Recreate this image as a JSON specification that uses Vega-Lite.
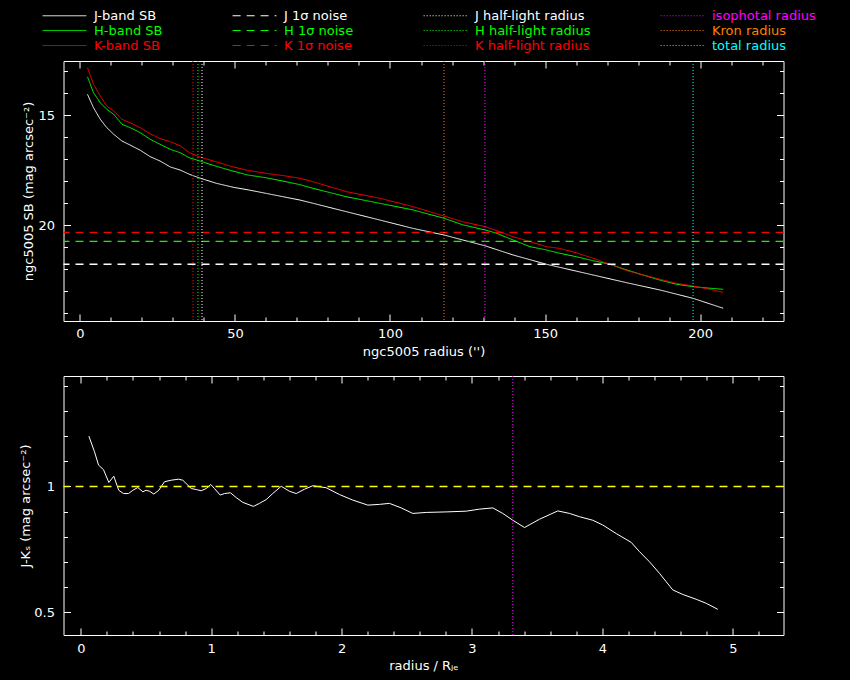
{
  "$schema": "https://vega.github.io/schema/vega-lite/v6.json",
  "background": "black",
  "padding": {"left": 18.5, "top": 7, "right": 40, "bottom": 8},
  "spacing": 16,
  "datasets": {
    "sb": [
      {"r": 2.5, "name": "J-band SB", "sb": 14.05}, {"r": 4.4, "name": "J-band SB", "sb": 14.65},
      {"r": 6.6, "name": "J-band SB", "sb": 15.18}, {"r": 8.7, "name": "J-band SB", "sb": 15.56},
      {"r": 10.9, "name": "J-band SB", "sb": 15.86}, {"r": 13.6, "name": "J-band SB", "sb": 16.17},
      {"r": 16.2, "name": "J-band SB", "sb": 16.35}, {"r": 19.5, "name": "J-band SB", "sb": 16.59},
      {"r": 22.7, "name": "J-band SB", "sb": 16.88}, {"r": 25.9, "name": "J-band SB", "sb": 17.08},
      {"r": 29.2, "name": "J-band SB", "sb": 17.35}, {"r": 32.4, "name": "J-band SB", "sb": 17.49},
      {"r": 35.3, "name": "J-band SB", "sb": 17.68}, {"r": 38.8, "name": "J-band SB", "sb": 17.86},
      {"r": 44.0, "name": "J-band SB", "sb": 18.09}, {"r": 49.4, "name": "J-band SB", "sb": 18.27},
      {"r": 54.7, "name": "J-band SB", "sb": 18.40}, {"r": 60.1, "name": "J-band SB", "sb": 18.55},
      {"r": 65.5, "name": "J-band SB", "sb": 18.70}, {"r": 70.9, "name": "J-band SB", "sb": 18.85},
      {"r": 75.2, "name": "J-band SB", "sb": 19.00}, {"r": 85.9, "name": "J-band SB", "sb": 19.38},
      {"r": 96.7, "name": "J-band SB", "sb": 19.76}, {"r": 107.4, "name": "J-band SB", "sb": 20.14},
      {"r": 117.4, "name": "J-band SB", "sb": 20.44}, {"r": 123.5, "name": "J-band SB", "sb": 20.67},
      {"r": 130.6, "name": "J-band SB", "sb": 20.93}, {"r": 139.7, "name": "J-band SB", "sb": 21.35},
      {"r": 150.4, "name": "J-band SB", "sb": 21.77}, {"r": 154.7, "name": "J-band SB", "sb": 21.91},
      {"r": 165.5, "name": "J-band SB", "sb": 22.26}, {"r": 176.3, "name": "J-band SB", "sb": 22.61},
      {"r": 187.0, "name": "J-band SB", "sb": 22.94}, {"r": 197.7, "name": "J-band SB", "sb": 23.32},
      {"r": 207.4, "name": "J-band SB", "sb": 23.77},
      {"r": 2.5, "name": "H-band SB", "sb": 13.25}, {"r": 4.4, "name": "H-band SB", "sb": 13.97},
      {"r": 6.6, "name": "H-band SB", "sb": 14.43}, {"r": 8.7, "name": "H-band SB", "sb": 14.73},
      {"r": 10.9, "name": "H-band SB", "sb": 14.95}, {"r": 13.6, "name": "H-band SB", "sb": 15.41},
      {"r": 16.2, "name": "H-band SB", "sb": 15.56}, {"r": 19.5, "name": "H-band SB", "sb": 15.79},
      {"r": 22.7, "name": "H-band SB", "sb": 16.09}, {"r": 25.9, "name": "H-band SB", "sb": 16.32},
      {"r": 29.2, "name": "H-band SB", "sb": 16.55}, {"r": 32.4, "name": "H-band SB", "sb": 16.70},
      {"r": 35.3, "name": "H-band SB", "sb": 16.93}, {"r": 38.8, "name": "H-band SB", "sb": 17.08},
      {"r": 43.1, "name": "H-band SB", "sb": 17.28}, {"r": 49.0, "name": "H-band SB", "sb": 17.52},
      {"r": 54.0, "name": "H-band SB", "sb": 17.71}, {"r": 60.1, "name": "H-band SB", "sb": 17.84},
      {"r": 65.5, "name": "H-band SB", "sb": 17.99}, {"r": 70.9, "name": "H-band SB", "sb": 18.15},
      {"r": 75.2, "name": "H-band SB", "sb": 18.32}, {"r": 85.9, "name": "H-band SB", "sb": 18.70},
      {"r": 96.7, "name": "H-band SB", "sb": 19.00}, {"r": 107.4, "name": "H-band SB", "sb": 19.30},
      {"r": 117.4, "name": "H-band SB", "sb": 19.68}, {"r": 123.5, "name": "H-band SB", "sb": 19.98},
      {"r": 130.6, "name": "H-band SB", "sb": 20.21}, {"r": 134.3, "name": "H-band SB", "sb": 20.36},
      {"r": 139.7, "name": "H-band SB", "sb": 20.67}, {"r": 145.1, "name": "H-band SB", "sb": 20.97},
      {"r": 150.4, "name": "H-band SB", "sb": 21.12}, {"r": 154.7, "name": "H-band SB", "sb": 21.27},
      {"r": 160.1, "name": "H-band SB", "sb": 21.43}, {"r": 165.5, "name": "H-band SB", "sb": 21.61},
      {"r": 170.9, "name": "H-band SB", "sb": 21.77}, {"r": 176.3, "name": "H-band SB", "sb": 22.03},
      {"r": 181.6, "name": "H-band SB", "sb": 22.26}, {"r": 187.0, "name": "H-band SB", "sb": 22.49},
      {"r": 192.4, "name": "H-band SB", "sb": 22.68}, {"r": 197.7, "name": "H-band SB", "sb": 22.79},
      {"r": 203.1, "name": "H-band SB", "sb": 22.86}, {"r": 207.4, "name": "H-band SB", "sb": 22.91},
      {"r": 2.5, "name": "K-band SB", "sb": 12.84}, {"r": 4.4, "name": "K-band SB", "sb": 13.59},
      {"r": 6.6, "name": "K-band SB", "sb": 14.12}, {"r": 8.7, "name": "K-band SB", "sb": 14.58},
      {"r": 10.9, "name": "K-band SB", "sb": 14.80}, {"r": 13.6, "name": "K-band SB", "sb": 15.18},
      {"r": 16.2, "name": "K-band SB", "sb": 15.34}, {"r": 19.5, "name": "K-band SB", "sb": 15.56},
      {"r": 22.7, "name": "K-band SB", "sb": 15.84}, {"r": 25.9, "name": "K-band SB", "sb": 16.06},
      {"r": 29.2, "name": "K-band SB", "sb": 16.20}, {"r": 32.4, "name": "K-band SB", "sb": 16.39},
      {"r": 35.3, "name": "K-band SB", "sb": 16.70}, {"r": 38.8, "name": "K-band SB", "sb": 16.90},
      {"r": 43.1, "name": "K-band SB", "sb": 17.08}, {"r": 49.0, "name": "K-band SB", "sb": 17.33},
      {"r": 54.0, "name": "K-band SB", "sb": 17.50}, {"r": 60.1, "name": "K-band SB", "sb": 17.64},
      {"r": 65.5, "name": "K-band SB", "sb": 17.74}, {"r": 70.9, "name": "K-band SB", "sb": 17.86},
      {"r": 75.2, "name": "K-band SB", "sb": 18.02}, {"r": 85.9, "name": "K-band SB", "sb": 18.47},
      {"r": 96.7, "name": "K-band SB", "sb": 18.77}, {"r": 107.4, "name": "K-band SB", "sb": 19.15},
      {"r": 117.4, "name": "K-band SB", "sb": 19.58}, {"r": 123.5, "name": "K-band SB", "sb": 19.84},
      {"r": 130.6, "name": "K-band SB", "sb": 20.06}, {"r": 134.3, "name": "K-band SB", "sb": 20.24},
      {"r": 139.7, "name": "K-band SB", "sb": 20.52}, {"r": 145.1, "name": "K-band SB", "sb": 20.74},
      {"r": 150.4, "name": "K-band SB", "sb": 20.97}, {"r": 154.7, "name": "K-band SB", "sb": 21.05},
      {"r": 160.1, "name": "K-band SB", "sb": 21.25}, {"r": 165.5, "name": "K-band SB", "sb": 21.50},
      {"r": 170.9, "name": "K-band SB", "sb": 21.77}, {"r": 176.3, "name": "K-band SB", "sb": 22.06},
      {"r": 181.6, "name": "K-band SB", "sb": 22.26}, {"r": 187.0, "name": "K-band SB", "sb": 22.45},
      {"r": 192.4, "name": "K-band SB", "sb": 22.64}, {"r": 197.7, "name": "K-band SB", "sb": 22.76},
      {"r": 203.1, "name": "K-band SB", "sb": 22.91}, {"r": 207.4, "name": "K-band SB", "sb": 23.05}
    ],
    "noise": [
      {"name": "J 1σ noise", "sb": 21.77},
      {"name": "H 1σ noise", "sb": 20.73},
      {"name": "K 1σ noise", "sb": 20.32}
    ],
    "radii": [
      {"name": "J half-light radius", "r": 39.4},
      {"name": "H half-light radius", "r": 38.1},
      {"name": "K half-light radius", "r": 36.5},
      {"name": "isophotal radius", "r": 130.6},
      {"name": "Kron radius", "r": 117.4},
      {"name": "total radius", "r": 197.7}
    ],
    "jk": [
      {"rad": 0.062, "jk": 1.200}, {"rad": 0.105, "jk": 1.138}, {"rad": 0.136, "jk": 1.085},
      {"rad": 0.174, "jk": 1.067}, {"rad": 0.215, "jk": 1.016}, {"rad": 0.253, "jk": 1.041},
      {"rad": 0.291, "jk": 0.985}, {"rad": 0.327, "jk": 0.972}, {"rad": 0.366, "jk": 0.972},
      {"rad": 0.399, "jk": 0.985}, {"rad": 0.437, "jk": 0.996}, {"rad": 0.476, "jk": 0.979},
      {"rad": 0.501, "jk": 0.985}, {"rad": 0.527, "jk": 0.981}, {"rad": 0.560, "jk": 0.970},
      {"rad": 0.598, "jk": 0.985}, {"rad": 0.642, "jk": 1.019}, {"rad": 0.693, "jk": 1.025},
      {"rad": 0.749, "jk": 1.029}, {"rad": 0.782, "jk": 1.025}, {"rad": 0.847, "jk": 0.992},
      {"rad": 0.885, "jk": 0.988}, {"rad": 0.923, "jk": 0.983}, {"rad": 0.962, "jk": 0.992},
      {"rad": 0.997, "jk": 1.008}, {"rad": 1.025, "jk": 0.992}, {"rad": 1.069, "jk": 0.966},
      {"rad": 1.102, "jk": 0.972}, {"rad": 1.148, "jk": 0.975}, {"rad": 1.192, "jk": 0.956},
      {"rad": 1.242, "jk": 0.937}, {"rad": 1.324, "jk": 0.921}, {"rad": 1.370, "jk": 0.933},
      {"rad": 1.422, "jk": 0.948}, {"rad": 1.472, "jk": 0.972}, {"rad": 1.537, "jk": 1.001},
      {"rad": 1.600, "jk": 0.981}, {"rad": 1.652, "jk": 0.972}, {"rad": 1.715, "jk": 0.989},
      {"rad": 1.779, "jk": 1.003}, {"rad": 1.882, "jk": 0.995}, {"rad": 1.984, "jk": 0.968},
      {"rad": 2.086, "jk": 0.946}, {"rad": 2.201, "jk": 0.926}, {"rad": 2.291, "jk": 0.929},
      {"rad": 2.367, "jk": 0.933}, {"rad": 2.457, "jk": 0.915}, {"rad": 2.546, "jk": 0.893},
      {"rad": 2.649, "jk": 0.897}, {"rad": 2.802, "jk": 0.899}, {"rad": 2.956, "jk": 0.902},
      {"rad": 3.057, "jk": 0.910}, {"rad": 3.160, "jk": 0.915}, {"rad": 3.236, "jk": 0.893},
      {"rad": 3.313, "jk": 0.866}, {"rad": 3.403, "jk": 0.837}, {"rad": 3.518, "jk": 0.870},
      {"rad": 3.658, "jk": 0.903}, {"rad": 3.748, "jk": 0.893}, {"rad": 3.824, "jk": 0.880},
      {"rad": 3.926, "jk": 0.866}, {"rad": 4.003, "jk": 0.847}, {"rad": 4.106, "jk": 0.813},
      {"rad": 4.221, "jk": 0.778}, {"rad": 4.285, "jk": 0.741}, {"rad": 4.361, "jk": 0.701},
      {"rad": 4.438, "jk": 0.655}, {"rad": 4.540, "jk": 0.589}, {"rad": 4.617, "jk": 0.571},
      {"rad": 4.719, "jk": 0.552}, {"rad": 4.796, "jk": 0.536}, {"rad": 4.885, "jk": 0.512}
    ],
    "jkref": [{"jk": 1}],
    "jkrad": [{"rad": 3.313}]
  },
  "vconcat": [
    {
      "width": 720,
      "height": 260,
      "layer": [
        {
          "data": {"name": "sb"},
          "mark": {"type": "line", "strokeWidth": 1},
          "encoding": {
            "x": {
              "field": "r", "type": "quantitative",
              "scale": {"domain": [-5.25, 226.85], "nice": false, "zero": false},
              "axis": {
                "orient": "bottom",
                "title": "ngc5005 radius ('')",
                "values": [0, 10, 20, 30, 40, 50, 60, 70, 80, 90, 100, 110, 120, 130, 140, 150, 160, 170, 180, 190, 200, 210, 220],
                "labelExpr": "datum.value % 50 == 0 ? datum.label : ''",
                "tickSize": {"condition": {"test": "datum.value % 50 == 0", "value": -7}, "value": -4},
                "labelPadding": 13,
                "titlePadding": 2
              }
            },
            "y": {
              "field": "sb", "type": "quantitative",
              "scale": {"domain": [12.532, 24.35], "reverse": true, "nice": false, "zero": false},
              "axis": {
                "orient": "left",
                "title": "ngc5005 SB (mag arcsec⁻²)",
                "values": [13, 14, 15, 16, 17, 18, 19, 20, 21, 22, 23, 24],
                "labelExpr": "datum.value % 5 == 0 ? datum.label : ''",
                "tickSize": {"condition": {"test": "datum.value % 5 == 0", "value": -7}, "value": -4},
                "labelPadding": 16,
                "titlePadding": 2
              }
            },
            "stroke": {
              "field": "name", "type": "nominal",
              "scale": {
                "domain": ["J-band SB", "H-band SB", "K-band SB", "J 1σ noise", "H 1σ noise", "K 1σ noise", "J half-light radius", "H half-light radius", "K half-light radius", "isophotal radius", "Kron radius", "total radius"],
                "range": ["#ffffff", "#00ff00", "#ff0000", "#ffffff", "#00ff00", "#ff0000", "#ffffff", "#00ff00", "#ff0000", "#ff00ff", "#ff8000", "#00ffff"]
              },
              "legend": {
                "orient": "none", "legendX": -6.5, "legendY": -53, "columns": 4,
                "title": null, "symbolType": "M-3.2,0H3.2", "symbolSize": 187, "symbolStrokeWidth": 1,
                "columnPadding": 67, "rowPadding": -2, "labelOffset": 22, "padding": 0,
                "labelFontSize": 13, "labelFont": "DejaVu Sans", "labelLimit": 300,
                "labelColor": {"expr": "datum.label == 'Kron radius' ? '#ff8000' : datum.label == 'isophotal radius' ? '#ff00ff' : datum.label == 'total radius' ? '#00ffff' : substring(datum.label, 0, 1) == 'H' ? '#00ff00' : substring(datum.label, 0, 1) == 'K' ? '#ff0000' : '#ffffff'"}
              }
            },
            "strokeDash": {
              "field": "name", "type": "nominal",
              "scale": {
                "domain": ["J-band SB", "H-band SB", "K-band SB", "J 1σ noise", "H 1σ noise", "K 1σ noise", "J half-light radius", "H half-light radius", "K half-light radius", "isophotal radius", "Kron radius", "total radius"],
                "range": [[1, 0], [1, 0], [1, 0], [8, 6], [8, 6], [8, 6], [1, 2], [1, 2], [1, 2], [1, 2], [1, 2], [1, 2]]
              },
              "legend": {
                "orient": "none", "legendX": -6.5, "legendY": -53, "columns": 4,
                "title": null, "symbolType": "M-3.2,0H3.2", "symbolSize": 187, "symbolStrokeWidth": 1,
                "columnPadding": 67, "rowPadding": -2, "labelOffset": 22, "padding": 0,
                "labelFontSize": 13, "labelFont": "DejaVu Sans", "labelLimit": 300,
                "labelColor": {"expr": "datum.label == 'Kron radius' ? '#ff8000' : datum.label == 'isophotal radius' ? '#ff00ff' : datum.label == 'total radius' ? '#00ffff' : substring(datum.label, 0, 1) == 'H' ? '#00ff00' : substring(datum.label, 0, 1) == 'K' ? '#ff0000' : '#ffffff'"}
              }
            }
          }
        },
        {
          "data": {"name": "noise"},
          "mark": {"type": "rule", "strokeWidth": 1.3},
          "encoding": {
            "y": {
              "field": "sb", "type": "quantitative",
              "axis": {
                "orient": "right", "title": null, "labels": false,
                "values": [13, 14, 15, 16, 17, 18, 19, 20, 21, 22, 23, 24],
                "tickSize": {"condition": {"test": "datum.value % 5 == 0", "value": -7}, "value": -4}
              }
            },
            "stroke": {"field": "name", "type": "nominal"},
            "strokeDash": {"field": "name", "type": "nominal"}
          }
        },
        {
          "data": {"name": "radii"},
          "mark": {"type": "rule", "strokeWidth": 1},
          "encoding": {
            "x": {
              "field": "r", "type": "quantitative",
              "axis": {
                "orient": "top", "title": null, "labels": false,
                "values": [0, 10, 20, 30, 40, 50, 60, 70, 80, 90, 100, 110, 120, 130, 140, 150, 160, 170, 180, 190, 200, 210, 220],
                "tickSize": {"condition": {"test": "datum.value % 50 == 0", "value": -7}, "value": -4}
              }
            },
            "stroke": {"field": "name", "type": "nominal"},
            "strokeDash": {"field": "name", "type": "nominal"}
          }
        }
      ],
      "resolve": {"axis": {"x": "independent", "y": "independent"}}
    },
    {
      "width": 720,
      "height": 259,
      "layer": [
        {
          "data": {"name": "jk"},
          "mark": {"type": "line", "stroke": "#ffffff", "strokeWidth": 1},
          "encoding": {
            "x": {
              "field": "rad", "type": "quantitative",
              "scale": {"domain": [-0.1327, 5.389], "nice": false, "zero": false},
              "axis": {
                "orient": "bottom",
                "title": "radius / Rⱼₑ",
                "values": [0, 0.2, 0.4, 0.6, 0.8, 1, 1.2, 1.4, 1.6, 1.8, 2, 2.2, 2.4, 2.6, 2.8, 3, 3.2, 3.4, 3.6, 3.8, 4, 4.2, 4.4, 4.6, 4.8, 5, 5.2],
                "format": "~g",
                "labelExpr": "datum.value % 1 == 0 ? datum.label : ''",
                "tickSize": {"condition": {"test": "datum.value % 1 == 0", "value": -7}, "value": -4},
                "labelPadding": 14,
                "titlePadding": 1
              }
            },
            "y": {
              "field": "jk", "type": "quantitative",
              "scale": {"domain": [0.41, 1.439], "nice": false, "zero": false},
              "axis": {
                "orient": "left",
                "title": "J-Kₛ (mag arcsec⁻²)",
                "values": [0.5, 0.6, 0.7, 0.8, 0.9, 1, 1.1, 1.2, 1.3, 1.4],
                "format": "~g",
                "labelExpr": "datum.value == 0.5 || datum.value == 1 ? datum.label : ''",
                "tickSize": {"condition": {"test": "datum.value == 0.5 || datum.value == 1", "value": -7}, "value": -4},
                "labelPadding": 16,
                "titlePadding": 1
              }
            }
          }
        },
        {
          "data": {"name": "jkref"},
          "mark": {"type": "rule", "stroke": "#ffff00", "strokeWidth": 1.5, "strokeDash": [8, 6]},
          "encoding": {
            "y": {
              "field": "jk", "type": "quantitative",
              "axis": {
                "orient": "right", "title": null, "labels": false,
                "values": [0.5, 0.6, 0.7, 0.8, 0.9, 1, 1.1, 1.2, 1.3, 1.4],
                "tickSize": {"condition": {"test": "datum.value == 0.5 || datum.value == 1", "value": -7}, "value": -4}
              }
            }
          }
        },
        {
          "data": {"name": "jkrad"},
          "mark": {"type": "rule", "stroke": "#ff00ff", "strokeWidth": 1, "strokeDash": [1, 2]},
          "encoding": {
            "x": {
              "field": "rad", "type": "quantitative",
              "axis": {
                "orient": "top", "title": null, "labels": false,
                "values": [0, 0.2, 0.4, 0.6, 0.8, 1, 1.2, 1.4, 1.6, 1.8, 2, 2.2, 2.4, 2.6, 2.8, 3, 3.2, 3.4, 3.6, 3.8, 4, 4.2, 4.4, 4.6, 4.8, 5, 5.2],
                "tickSize": {"condition": {"test": "datum.value % 1 == 0", "value": -7}, "value": -4}
              }
            }
          }
        }
      ],
      "resolve": {"axis": {"x": "independent", "y": "independent"}}
    }
  ],
  "resolve": {"scale": {"stroke": "independent", "strokeDash": "independent"}},
  "config": {
    "view": {"stroke": "#ffffff", "strokeWidth": 1},
    "font": "DejaVu Sans",
    "axis": {
      "domain": false,
      "grid": false,
      "tickColor": "#ffffff",
      "tickWidth": 1,
      "labelColor": "#ffffff",
      "labelFont": "DejaVu Sans",
      "labelFontSize": 13,
      "labelOverlap": false,
      "labelFlush": false,
      "labelBound": false,
      "titleColor": "#ffffff",
      "titleFont": "DejaVu Sans",
      "titleFontSize": 13,
      "titleFontWeight": "normal"
    }
  }
}
